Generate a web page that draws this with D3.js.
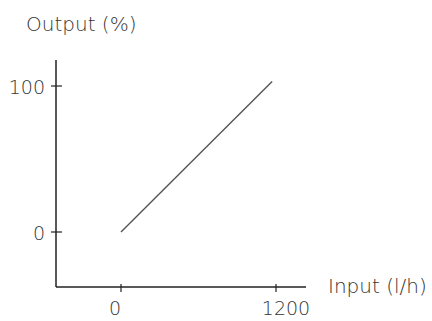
<!DOCTYPE html>
<html><head><meta charset="utf-8">
<script src="https://cdn.jsdelivr.net/npm/d3@7"></script>
<style>body{margin:0;background:#fff}svg text{font-family:"DejaVu Sans",sans-serif;font-weight:200;fill:#333}</style>
</head><body><svg id="c" width="432" height="321"></svg>
<script>
const inputValues = [0, 1170];
const outputValues = [0, 103];
const xTicks = [0, 1200];
const yTicks = [0, 100];
const xTitle = "Input (l/h)";
const yTitle = "Output (%)";

const svg = d3.select("#c");
const x = d3.scaleLinear().domain([0, 1200]).range([121, 276]);
const y = d3.scaleLinear().domain([0, 100]).range([232, 86]);
const xMin = x.invert(56), xMax = x.invert(306);
const yMin = y.invert(287), yMax = y.invert(60);

// axis lines
svg.append("line").attr("x1", x(xMin)).attr("x2", x(xMax)).attr("y1", y(yMin)).attr("y2", y(yMin))
  .attr("stroke", "#222").attr("stroke-width", 1.5);
svg.append("line").attr("x1", x(xMin)).attr("x2", x(xMin)).attr("y1", y(yMin)).attr("y2", y(yMax))
  .attr("stroke", "#222").attr("stroke-width", 1.5);

// x ticks
const xg = svg.append("g").selectAll("g").data(xTicks).join("g").attr("transform", d => `translate(${x(d)},${y(yMin)})`);
xg.append("line").attr("y1", -3).attr("y2", 5).attr("stroke", "#222").attr("stroke-width", 1.2);
xg.append("text").attr("y", 28).attr("text-anchor", "middle").attr("font-size", 19)
  .attr("dx", (d, i) => i === 0 ? -6 : 10).text(d => d);

// y ticks
const yg = svg.append("g").selectAll("g").data(yTicks).join("g").attr("transform", d => `translate(${x(xMin)},${y(d)})`);
yg.append("line").attr("x1", -5).attr("x2", 6).attr("stroke", "#222").attr("stroke-width", 1.2);
yg.append("text").attr("x", -11).attr("y", 8).attr("text-anchor", "end").attr("font-size", 19).text(d => d);

// data line
const pts = inputValues.map((v, i) => [v, outputValues[i]]);
svg.append("path").datum(pts).attr("fill", "none").attr("stroke", "#555").attr("stroke-width", 1.4)
  .attr("d", d3.line().x(d => x(d[0])).y(d => y(d[1])));

// titles
svg.append("text").attr("x", 26).attr("y", 31).attr("font-size", 20).text(yTitle);
svg.append("text").attr("x", 328).attr("y", 293).attr("font-size", 20).text(xTitle);
</script></body></html>
